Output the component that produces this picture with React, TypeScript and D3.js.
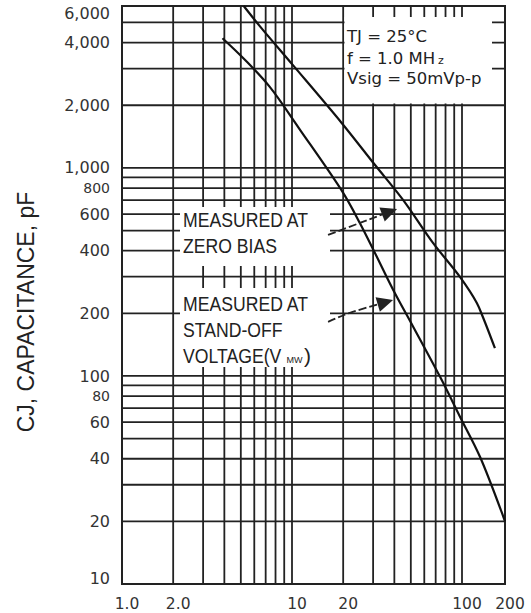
import React from 'react';
import * as d3 from 'd3';

// x: reverse stand-off voltage (V), y: junction capacitance (pF)
const xTicks = [1, 2, 10, 20, 100, 200];
const xTickLabels = ['1.0', '2.0', '10', '20', '100', '200'];
const yTicks = [6000, 4000, 2000, 1000, 800, 600, 400, 200, 100, 80, 60, 40, 20, 10];
const yTickLabels = ['6,000', '4,000', '2,000', '1,000', '800', '600', '400', '200', '100', '80', '60', '40', '20', '10'];
const ySmallLabels = ['800', '80'];

const xGrid = [1, 2, 3, 4, 5, 6, 7, 8, 9, 10, 20, 30, 40, 50, 60, 70, 80, 90, 100, 200];
const yGrid = [10, 20, 30, 40, 50, 60, 70, 80, 90, 100, 200, 300, 400, 500, 600, 700, 800, 900, 1000, 2000, 3000, 4000, 5000, 6000];

// measured at zero bias
const zeroBiasX = [5.2, 6.5, 10.1, 19.6, 30.8, 45, 67.5, 97.3, 127, 140, 170];
const zeroBiasY = [6000, 4775, 3126, 1644, 1032, 702, 436, 299, 224, 192, 136];

// measured at stand-off voltage
const standOffX = [3.9, 5.3, 7.4, 11.15, 20, 25.1, 30.8, 39.4, 51.7, 74.3, 97.3, 133.6, 194.5, 200];
const standOffY = [4200, 3300, 2450, 1524, 758, 542, 389, 259, 172, 99, 63.7, 40.9, 21.1, 20];

// arrow annotations (start, bend, tip) in data units
const zeroArrowX = [16.3, 25.1, 41.5];
const zeroArrowY = [476, 544, 635];
const standArrowX = [16.3, 21.9, 39.3];
const standArrowY = [182, 201, 232];

const W = 531;
const H = 613;
const ink = '#222';

const App = () => {
  const x = d3.scaleLog().domain([1, 100, 200]).range([122, 462, 505]);
  const y = d3.scaleLog().domain([10, 6000]).range([584, 6]);

  const line = d3
    .line<[number, number]>()
    .x((d) => x(d[0]))
    .y((d) => y(d[1]))
    .curve(d3.curveCatmullRom.alpha(0.5));

  const zeroBias = zeroBiasX.map((v, i) => [v, zeroBiasY[i]] as [number, number]);
  const standOff = standOffX.map((v, i) => [v, standOffY[i]] as [number, number]);

  const arrow = (xs: number[], ys: number[]) => {
    const pts = xs.map((v, i) => [v, ys[i]] as [number, number]);
    const tip = [x(pts[2][0]), y(pts[2][1])];
    const prev = [x(pts[1][0]), y(pts[1][1])];
    const a = Math.atan2(tip[1] - prev[1], tip[0] - prev[0]);
    const len = 16;
    const hw = 7.5;
    const bx = tip[0] - len * Math.cos(a);
    const by = tip[1] - len * Math.sin(a);
    const head = [
      [tip[0], tip[1]],
      [bx + hw * Math.sin(a), by - hw * Math.cos(a)],
      [bx - hw * Math.sin(a), by + hw * Math.cos(a)],
    ];
    const shaft = d3
      .line<[number, number]>()
      .curve(d3.curveNatural)([
      [x(pts[0][0]), y(pts[0][1])],
      prev as [number, number],
      [bx + 2 * Math.cos(a), by + 2 * Math.sin(a)],
    ]);
    return (
      <g>
        <path d={shaft || ''} fill="none" stroke={ink} strokeWidth={1.8} strokeDasharray="8,3" />
        <polygon points={head.map((p) => p.join(',')).join(' ')} fill={ink} />
      </g>
    );
  };

  const [x0, x1] = [122, 505];
  const [y0, y1] = [584, 6];

  return (
    <svg
      width={W}
      height={H}
      style={{ position: 'absolute', left: 0, top: 0, background: '#fff' }}
      fontFamily="'DejaVu Sans', sans-serif"
    >
      <rect x={0} y={0} width={W} height={H} fill="#fff" />
      <g stroke={ink} strokeWidth={1.8}>
        {xGrid.map((v) => (
          <line key={'gx' + v} x1={x(v)} x2={x(v)} y1={y0} y2={y1} />
        ))}
        {yGrid.map((v) => (
          <line key={'gy' + v} x1={x0} x2={x1} y1={y(v)} y2={y(v)} />
        ))}
      </g>
      <rect x={x0} y={y1} width={x1 - x0} height={y0 - y1} fill="none" stroke={ink} strokeWidth={2} />

      {/* white label areas leave only stubs of the grid */}
      <rect x={344.5} y={17} width={147.5} height={86.5} fill="#fff" />
      <rect x={180} y={207} width={150} height={59} fill="#fff" />
      <rect x={180} y={288} width={150} height={79} fill="#fff" />

      <path d={line(zeroBias) || ''} fill="none" stroke="#111" strokeWidth={2.2} />
      <path d={line(standOff) || ''} fill="none" stroke="#111" strokeWidth={2.2} />
      {arrow(zeroArrowX, zeroArrowY)}
      {arrow(standArrowX, standArrowY)}

      <g fill="#222" fontSize={16.5}>
        <text x={347} y={42}>TJ = 25°C</text>
        <text x={347} y={64}>f = 1.0 MH</text>
        <text x={438} y={64} fontSize={11}>z</text>
        <text x={347} y={84}>Vsig = 50mVp-p</text>
      </g>

      {/* condensed lettering for the curve labels */}
      <g
        fill="#222"
        fontSize={21}
        fontFamily="'Liberation Sans', Arial, sans-serif"
        transform="translate(183,0) scale(0.84,1)"
      >
        <text x={0} y={227.5}>MEASURED AT</text>
        <text x={0} y={253}>ZERO BIAS</text>
        <text x={0} y={311}>MEASURED AT</text>
        <text x={0} y={337}>STAND-OFF</text>
        <text x={0} y={363}>VOLTAGE(V</text>
      </g>
      <g fill="#222" fontFamily="'Liberation Sans', Arial, sans-serif">
        <text x={286.5} y={363} fontSize={9}>MW</text>
        <text x={304} y={363} fontSize={21}>)</text>
      </g>

      <g fill="#333" textAnchor="end">
        {yTicks.map((v, i) => {
          const small = ySmallLabels.includes(yTickLabels[i]);
          const yy = Math.min(Math.max(y(v), 13), 578);
          return (
            <text key={'yl' + v} x={110} y={yy} dy="0.35em" fontSize={small ? 14 : 16}>
              {yTickLabels[i]}
            </text>
          );
        })}
      </g>
      <g fill="#333" textAnchor="middle" fontSize={15.5}>
        {xTicks.map((v, i) => (
          <text key={'xl' + v} x={x(v) + 5} y={609}>
            {xTickLabels[i]}
          </text>
        ))}
      </g>
      <text
        transform="translate(34,312) rotate(-90)"
        textAnchor="middle"
        fontSize={23}
        fontFamily="'Liberation Sans', Arial, sans-serif"
        fill="#222"
      >
        CJ, CAPACITANCE, pF
      </text>
    </svg>
  );
};

export default App;
